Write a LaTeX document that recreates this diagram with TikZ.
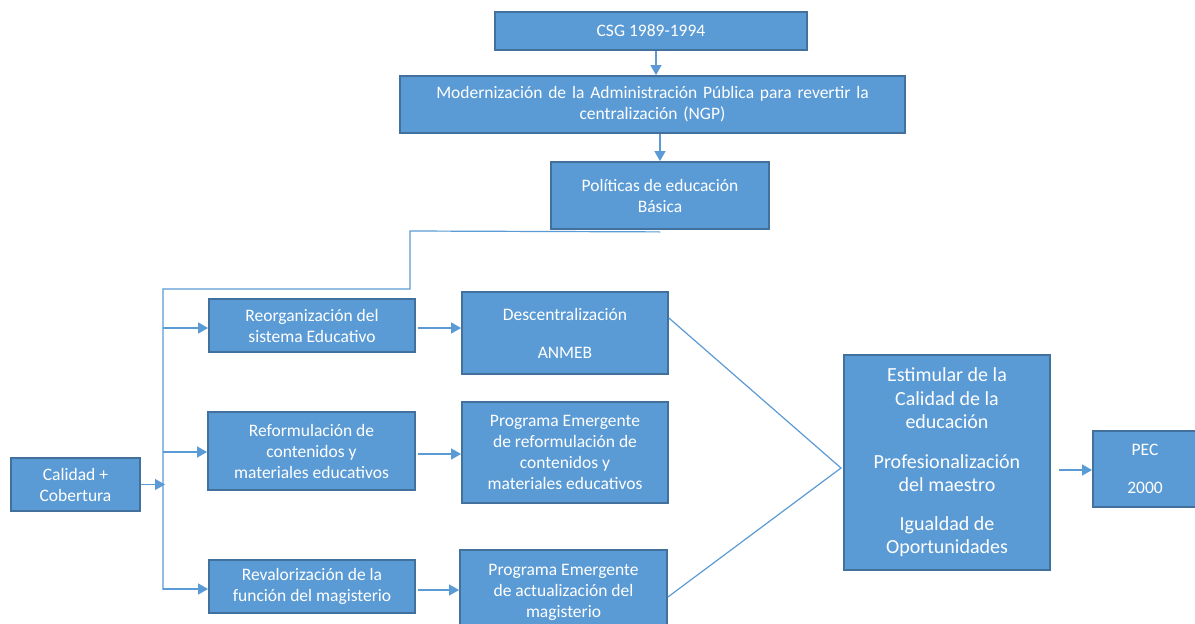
\documentclass[tikz,border=0pt]{standalone}
\usepackage{fontspec}
\setmainfont{Carlito}
\usetikzlibrary{arrows.meta,calc}
\definecolor{boxfill}{HTML}{5B9BD5}
\definecolor{boxline}{HTML}{41719C}
\definecolor{conn}{HTML}{5B9BD5}
\tikzset{
  box/.style={draw=boxline, line width=1.8pt, fill=boxfill, text=white, align=center,
    inner sep=0pt, font=\fontsize{17.5}{21}\selectfont},
  conline/.style={draw=conn, line width=1.2pt},
  arr/.style={conline, -{Triangle[length=10pt,width=11pt]}},
}
\begin{document}
\begin{tikzpicture}[x=1pt,y=-1pt]
\useasboundingbox (0,0) rectangle (1195,624);
\fill[white] (0,0) rectangle (1195,624);

\node[box, minimum width=312pt, minimum height=38pt] (csg) at (651,31) {CSG 1989-1994};
\node[box, minimum width=505pt, minimum height=57pt, text width=480pt] (mod) at (652.5,104.5)
  {Modernización de la Administración Pública para revertir la\\centralización (NGP)};
\node[box, minimum width=218pt, minimum height=67pt] (pol) at (660,195.5)
  {Políticas de educación\\Básica};

\node[box, minimum width=129pt, minimum height=53pt] (cal) at (75.5,484.5) {Calidad +\\Cobertura};

\node[box, minimum width=206pt, minimum height=53pt] (reorg) at (312,325.5)
  {Reorganización del\\sistema Educativo};
\node[box, minimum width=207pt, minimum height=78pt] (reform) at (311.5,451)
  {Reformulación de\\contenidos y\\materiales educativos};
\node[box, minimum width=206pt, minimum height=53pt] (reval) at (312,586.5)
  {Revalorización de la\\función del magisterio};

\node[box, minimum width=206pt, minimum height=82pt] (desc) at (565,333)
  {Descentralización\\[17pt]ANMEB};
\node[box, minimum width=206pt, minimum height=101pt] (prog1) at (565,452.5)
  {Programa Emergente\\de reformulación de\\contenidos y\\materiales educativos};
\node[box, minimum width=207pt, minimum height=84pt] (prog2) at (563.5,592)
  {Programa Emergente\\de actualización del\\magisterio};

\node[box, minimum width=206pt, minimum height=215pt, font=\fontsize{20}{23.5}\selectfont] (est) at (947,462.5)
  {Estimular de la\\Calidad de la\\educación\\[16pt]Profesionalización\\del maestro\\[15pt]Igualdad de\\Oportunidades};
\node[box, minimum width=104pt, minimum height=76pt] (pec) at (1145,469)
  {PEC\\[17pt]2000};

% top chain
\draw[arr] ([xshift=5pt]csg.south) -- ([xshift=5pt]csg.south |- mod.north);
\draw[arr] (pol.north |- mod.south) -- (pol.north);

% bus
\coordinate (k1) at (410,231);
\coordinate (k2) at (410,289);
\coordinate (bt) at (163,289);
\coordinate (bb) at (163,590);
\draw[conline] ([yshift=-2pt]pol.south) -- (k1) -- (k2) -- (bt) -- (bb);

\draw[arr] (bt |- 0,328) -- (reorg.west |- 0,328);
\draw[arr] (bt |- 0,452) -- (reform.west |- 0,452);
\draw[arr] (bt |- 0,589) -- (reval.west |- 0,589);
\draw[arr] (cal.east) -- ([xshift=2pt]cal.east -| bt);

% middle arrows
\draw[arr] ([xshift=2pt]reorg.east |- 0,328) -- (desc.west |- 0,328);
\draw[arr] ([xshift=2pt]reform.east |- 0,454) -- (prog1.west |- 0,454);
\draw[arr] ([xshift=2pt]reval.east |- 0,590) -- (prog2.west |- 0,590);

% converging lines
\coordinate (meet) at (841,468);
\draw[conline] (desc.east |- 0,318) -- (meet) -- (prog2.east |- 0,597);

\draw[arr] ([xshift=8pt]est.east |- 0,470) -- (pec.west |- 0,470);
\end{tikzpicture}
\end{document}
